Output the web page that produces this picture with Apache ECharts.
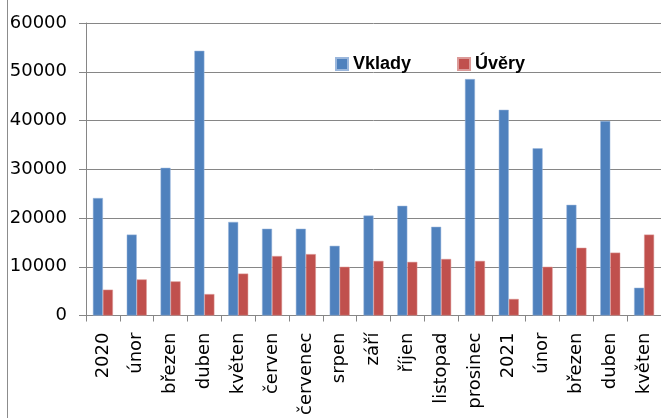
<!DOCTYPE html>
<html>
<head>
<meta charset="utf-8">
<script src="https://cdn.jsdelivr.net/npm/echarts@6/dist/echarts.min.js"></script>
<style>html,body{margin:0;padding:0;background:#fff;}#c{width:661px;height:418px;}</style>
</head>
<body>
<div id="c"></div>
<script>
const categories = ['2020','únor','březen','duben','květen','červen','červenec','srpen','září','říjen','listopad','prosinec','2021','únor','březen','duben','květen'];
const vklady = [24100,16600,30300,54300,19200,17800,17800,14300,20500,22500,18200,48500,42200,34300,22700,39900,5700];
const uvery = [5300,7400,7000,4400,8600,12200,12600,10000,11200,11000,11600,11200,3400,10000,13900,12900,16600];
const yTicks = [0,10000,20000,30000,40000,50000,60000];

const chart = echarts.init(document.getElementById('c'));
chart.setOption({
  animation: false,
  textStyle: {fontFamily: 'DejaVu Sans'},
  graphic: [{type:'line', shape:{x1:7.5,y1:0,x2:7.5,y2:418}, style:{stroke:'#8c8c8c', lineWidth:1}}],
  legend: {
    left: 335, top: 55, padding: 0,
    itemWidth: 12, itemHeight: 12, itemGap: 46,
    icon: 'rect',
    textStyle: {fontFamily:'Liberation Sans', fontWeight:'bold', fontSize:18, color:'#000'},
    data: ['Vklady','Úvěry']
  },
  grid: {left: 86, top: 23, right: -7, bottom: 102},
  xAxis: {
    type: 'category', data: categories,
    axisLine: {lineStyle:{color:'#868686', width:1}},
    axisTick: {show:true, length:6, lineStyle:{color:'#868686'}},
    axisLabel: {rotate: 90, margin: 17, fontSize: 18, color:'#000', interval: 0},
    splitLine: {show:false}
  },
  yAxis: {
    type: 'value', min: 0, max: 60000, interval: 10000,
    axisLine: {show:true, lineStyle:{color:'#868686', width:1}},
    axisTick: {show:true, length:7, lineStyle:{color:'#868686'}},
    axisLabel: {margin: 19, fontSize: 18, color:'#000', padding:[5,0,0,0],
      formatter: v => yTicks.includes(v) ? String(v) : ''},
    splitLine: {lineStyle:{color:'#868686', width:1}}
  },
  series: [
    {name:'Vklady', type:'bar', data: vklady, barWidth: 10, barGap: '0%',
     itemStyle:{color:'#4F81BD', borderColor:'#9bb7dc', borderWidth:0.5}},
    {name:'Úvěry', type:'bar', data: uvery, barWidth: 10, barGap: '0%',
     itemStyle:{color:'#C0504D', borderColor:'#dc9a98', borderWidth:0.5}}
  ]
});
</script>
</body>
</html>
